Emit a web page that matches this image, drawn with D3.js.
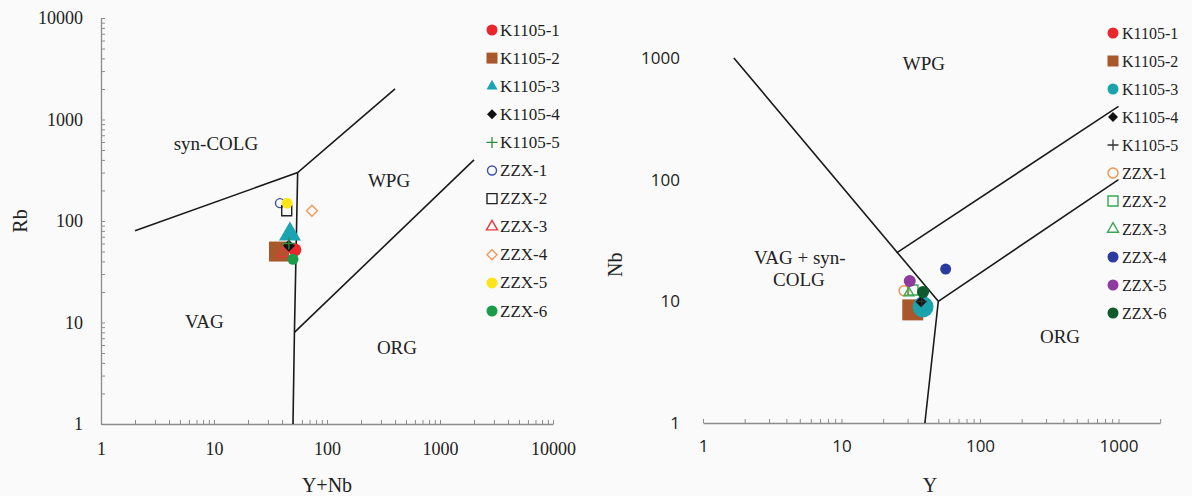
<!DOCTYPE html>
<html><head><meta charset="utf-8">
<script src="https://cdn.jsdelivr.net/npm/d3@7"></script>
<style>body{margin:0;background:#fafafa}svg{display:block}</style>
</head><body><svg id="c" width="1192" height="496"></svg>
<script>
// ---------------- DATA ----------------
const seriesNames = ["K1105-1","K1105-2","K1105-3","K1105-4","K1105-5","ZZX-1","ZZX-2","ZZX-3","ZZX-4","ZZX-5","ZZX-6"];
// Left panel: Rb vs (Y+Nb)
const leftYNb = [52, 37.6, 47, 46, 46, 38.4, 44, 40.8, 73.6, 44.3, 50];
const leftRb  = [52, 50, 74, 57, 60, 150, 126, 48, 126, 150, 42];
// Right panel: Nb vs Y
const rightY  = [33, 32.7, 38.8, 37.5, 38, 28.3, 32.8, 30.7, 56.5, 31.1, 38.8];
const rightNb = [8.6, 8.5, 9.0, 9.9, 10, 12.2, 12.4, 11.7, 18.4, 14.7, 11.9];
// tick labels
const leftXTickLabels = [1, 10, 100, 1000, 10000];
const leftYTickLabels = [1, 10, 100, 1000, 10000];
const rightXTickLabels = [1, 10, 100, 1000];
const rightYTickLabels = [1, 10, 100, 1000];
// discrimination boundaries (data coordinates)
const leftBoundaries = [
  [[2, 80], [55, 300], [400, 2000]],
  [[55, 300], [51.5, 8], [50, 1]],
  [[51.5, 8], [2000, 400]]
];
const rightBoundaries = [
  [[1.67, 1000], [50, 10], [40, 1]],
  [[50, 10], [1000, 100]],
  [[25, 25], [1000, 400]]
];
const leftFieldNames = ["syn-COLG", "WPG", "VAG", "ORG"];
const leftFieldAt = [[10.4, 579], [354, 249], [8.2, 10.2], [416, 5.65]];
const rightFieldNames = ["WPG", "VAG + syn-", "COLG", "ORG"];
const rightFieldAt = [[39.4, 908], [5.0, 23.1], [4.93, 15], [378, 5.09]];

// ---------------- STYLES ----------------
const leftStyle = [
  {t:"circle", fill:"#e8262b", s:13, ls:11},
  {t:"square", fill:"#a9582b", s:20, ls:11},
  {t:"triangle", fill:"#1aa3b0", s:22, ls:11},
  {t:"diamond", fill:"#111", s:12, ls:10},
  {t:"plus", stroke:"#2e8b3e", s:12, ls:11},
  {t:"circle", stroke:"#3d4fa8", s:9, ls:9},
  {t:"square", stroke:"#222", s:10, ls:10},
  {t:"triangle", stroke:"#e8383b", s:11, ls:11},
  {t:"diamond", stroke:"#f29a5a", s:11, ls:10},
  {t:"circle", fill:"#ffe41a", s:11, ls:11},
  {t:"circle", fill:"#1a9c4a", s:11, ls:11}
];
const rightStyle = [
  {t:"circle", fill:"#e8262b", s:12, ls:11},
  {t:"square", fill:"#a9582b", s:21, ls:11},
  {t:"circle", fill:"#1aa3ad", s:21, ls:11},
  {t:"diamond", fill:"#111", s:11, ls:10},
  {t:"plus", stroke:"#333", s:10, ls:11},
  {t:"circle", stroke:"#f0914a", s:10, ls:10},
  {t:"square", stroke:"#3aa655", s:10, ls:10},
  {t:"triangle", stroke:"#3aa655", s:10, ls:11},
  {t:"circle", fill:"#2b3a9e", s:11, ls:11},
  {t:"circle", fill:"#8e3a9e", s:12, ls:11},
  {t:"circle", fill:"#0e5a2c", s:12, ls:11}
];

function shapePath(t, d) {
  const h = d / 2;
  if (t === "circle") return `M${h},0A${h},${h} 0 1,1 ${-h},0A${h},${h} 0 1,1 ${h},0Z`;
  if (t === "square") return `M${-h},${-h}H${h}V${h}H${-h}Z`;
  if (t === "diamond") return `M0,${-h}L${h},0L0,${h}L${-h},0Z`;
  if (t === "triangle") { const ht = d * Math.sqrt(3) / 2; return `M0,${-ht*2/3}L${h},${ht/3}L${-h},${ht/3}Z`; }
  if (t === "plus") return `M${-h},0H${h}M0,${-h}V${h}`;
}
function styleShape(sel, st) {
  if (st.t === "plus") sel.attr("fill", "none").attr("stroke", st.stroke).attr("stroke-width", 1.3);
  else if (st.fill) sel.attr("fill", st.fill).attr("stroke", "none");
  else sel.attr("fill", "none").attr("stroke", st.stroke).attr("stroke-width", 1.4);
}

function logTicks(max) {
  const out = [];
  for (let k = 0; Math.pow(10, k) <= max; k++)
    for (let m = 1; m <= 9; m++) { const v = m * Math.pow(10, k); if (v <= max * 1.0001) out.push(v); }
  return out;
}

const svg = d3.select("#c");
svg.append("rect").attr("width", 1192).attr("height", 496).attr("fill", "#fafafa");
const serif = "'Liberation Serif','Times New Roman',serif";
const sans = "'Open Sans','Liberation Sans',sans-serif";
const axisCol = "#8c8c8c";

function styleAxis(g, fontFam, size) {
  g.select(".domain").attr("stroke", axisCol).attr("stroke-width", 1.3);
  g.selectAll(".tick line").attr("stroke", axisCol).attr("stroke-width", 1);
  g.selectAll(".tick text").attr("fill", "#222").style("font-family", fontFam).style("font-size", size + "px");
}

// ---------------- LEFT PANEL ----------------
const xL = d3.scaleLog().domain([1, 10000]).range([101, 553]);
const yL = d3.scaleLog().domain([1, 10000]).range([424, 18]);
const fmtMaj = (labels) => (d) => labels.includes(d) ? String(d) : "";

const gxL = svg.append("g").attr("transform", `translate(0,${yL(1)})`)
  .call(d3.axisBottom(xL).tickValues(logTicks(10000)).tickSizeInner(-4).tickSizeOuter(0).tickPadding(18).tickFormat(fmtMaj(leftXTickLabels)));
styleAxis(gxL, serif, 18);
const gyL = svg.append("g").attr("transform", `translate(${xL(1)},0)`)
  .call(d3.axisLeft(yL).tickValues(logTicks(10000)).tickSizeInner(-4).tickSizeOuter(0).tickPadding(18).tickFormat(fmtMaj(leftYTickLabels)));
styleAxis(gyL, serif, 18);

const line = (sx, sy) => d3.line().x(d => sx(d[0])).y(d => sy(d[1]));
svg.append("g").selectAll("path").data(leftBoundaries).join("path")
  .attr("d", line(xL, yL)).attr("fill", "none").attr("stroke", "#1a1a1a").attr("stroke-width", 1.6);

svg.append("g").selectAll("text").data(leftFieldNames).join("text")
  .attr("x", (d, i) => xL(leftFieldAt[i][0])).attr("y", (d, i) => yL(leftFieldAt[i][1]))
  .attr("text-anchor", "middle").attr("dominant-baseline", "central")
  .style("font-family", serif).style("font-size", "19px").attr("fill", "#222").text(d => d);

seriesNames.forEach((n, i) => {
  const st = leftStyle[i];
  svg.append("path").attr("d", shapePath(st.t, st.s))
    .attr("transform", `translate(${xL(leftYNb[i])},${yL(leftRb[i])})`).call(styleShape, st);
});

// left legend
const legL = svg.append("g");
seriesNames.forEach((n, i) => {
  const st = leftStyle[i];
  const y = 30 + i * 28.1;
  legL.append("path").attr("d", shapePath(st.t, st.ls)).attr("transform", `translate(492,${y})`).call(styleShape, st);
  legL.append("text").attr("x", 500).attr("y", y).attr("dominant-baseline", "central")
    .style("font-family", serif).style("font-size", "17px").attr("fill", "#222").text(n);
});

svg.append("text").attr("x", (xL.range()[0] + xL.range()[1]) / 2).attr("y", 492).attr("text-anchor", "middle")
  .style("font-family", serif).style("font-size", "20px").attr("fill", "#222").text("Y+Nb");
svg.append("text").attr("transform", `translate(27,${yL(100)}) rotate(-90)`).attr("text-anchor", "middle")
  .style("font-family", serif).style("font-size", "20px").attr("fill", "#222").text("Rb");

// ---------------- RIGHT PANEL ----------------
const xR = d3.scaleLog().domain([1, 2000]).range([703, 703 + 138.5 * Math.log10(2000)]);
const yR = d3.scaleLog().domain([1, 2000]).range([423, 423 - 121.7 * Math.log10(2000)]);

const gxR = svg.append("g").attr("transform", `translate(0,${yR(1)})`)
  .call(d3.axisBottom(xR).tickValues(logTicks(2000)).tickSizeInner(-4).tickSizeOuter(0).tickPadding(17).tickFormat(fmtMaj(rightXTickLabels)));
styleAxis(gxR, sans, 17);
const gyR = svg.append("g").attr("transform", `translate(${xR(1)},0)`)
  .call(d3.axisLeft(yR).tickValues(rightYTickLabels).tickSize(0).tickPadding(23).tickFormat(d => String(d)));
styleAxis(gyR, sans, 17);
gyR.select(".domain").remove();

svg.append("g").selectAll("path").data(rightBoundaries).join("path")
  .attr("d", line(xR, yR)).attr("fill", "none").attr("stroke", "#1a1a1a").attr("stroke-width", 1.6);

svg.append("g").selectAll("text").data(rightFieldNames).join("text")
  .attr("x", (d, i) => xR(rightFieldAt[i][0])).attr("y", (d, i) => yR(rightFieldAt[i][1]))
  .attr("text-anchor", "middle").attr("dominant-baseline", "central")
  .style("font-family", serif).style("font-size", "19px").attr("fill", "#222").text(d => d);

seriesNames.forEach((n, i) => {
  const st = rightStyle[i];
  svg.append("path").attr("d", shapePath(st.t, st.s))
    .attr("transform", `translate(${xR(rightY[i])},${yR(rightNb[i])})`).call(styleShape, st);
});

const legR = svg.append("g");
seriesNames.forEach((n, i) => {
  const st = rightStyle[i];
  const y = 33 + i * 28;
  legR.append("path").attr("d", shapePath(st.t, st.ls)).attr("transform", `translate(1113,${y})`).call(styleShape, st);
  legR.append("text").attr("x", 1122).attr("y", y).attr("dominant-baseline", "central")
    .style("font-family", serif).style("font-size", "16px").attr("fill", "#222").text(n);
});

svg.append("text").attr("x", 930).attr("y", 492).attr("text-anchor", "middle")
  .style("font-family", serif).style("font-size", "20px").attr("fill", "#222").text("Y");
svg.append("text").attr("transform", `translate(622,${yR(20)}) rotate(-90)`).attr("text-anchor", "middle")
  .style("font-family", serif).style("font-size", "20px").attr("fill", "#222").text("Nb");
</script></body></html>
